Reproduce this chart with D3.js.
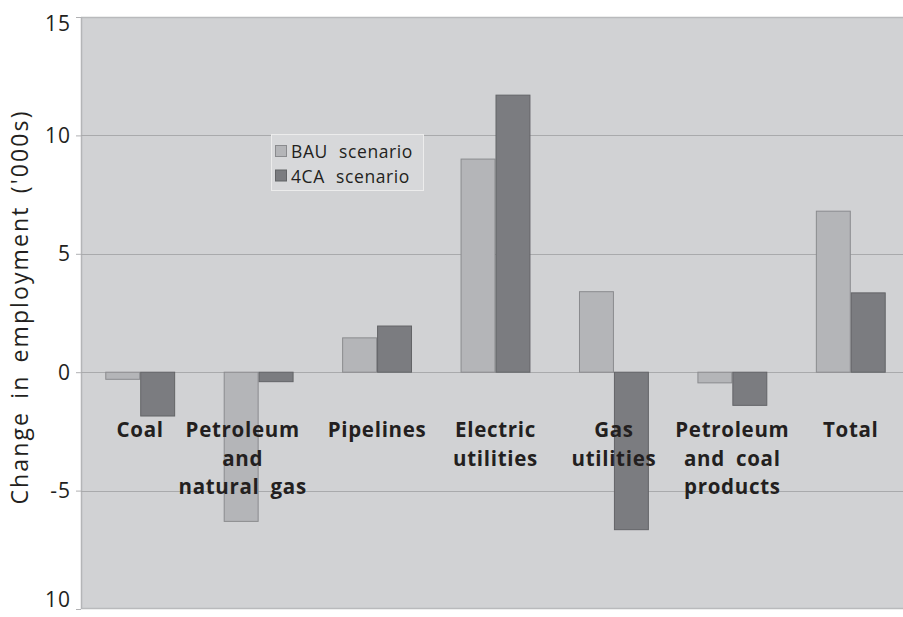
<!DOCTYPE html>
<html>
<head>
<meta charset="utf-8">
<script src="https://cdn.jsdelivr.net/npm/d3@7"></script>
<style>
  html, body { margin: 0; padding: 0; background: #ffffff; }
  svg { display: block; }
  text { font-family: "Open Sans", "Noto Sans", sans-serif; fill: #231f20; }
</style>
</head>
<body>
<svg id="chart" width="903" height="617"></svg>
<script>
// ---- data ----
const categories = ["Coal", "Petroleum and natural gas", "Pipelines", "Electric utilities", "Gas utilities", "Petroleum and coal products", "Total"];
const categoryLines = [["Coal"], ["Petroleum", "and", "natural gas"], ["Pipelines"], ["Electric", "utilities"], ["Gas", "utilities"], ["Petroleum", "and coal", "products"], ["Total"]];
const seriesNames = ["BAU scenario", "4CA scenario"];
const bauValues = [-0.3, -6.3, 1.45, 9.0, 3.4, -0.45, 6.8];
const fourCAValues = [-1.85, -0.4, 1.95, 11.7, -6.65, -1.4, 3.35];
const yTicks = [15, 10, 5, 0, -5, -10];
const yTickLabels = ["15", "10", "5", "0", "-5", "10"];
const yTitle = "Change in employment ('000s)";

// ---- layout ----
const svg = d3.select("#chart");
const plot = { left: 81, right: 910, top: 17, bottom: 609 };
const colors = { bau: "#b4b5b8", bauStroke: "#8a8b8e", ca: "#7b7c80", caStroke: "#636467" };

const x = d3.scaleBand().domain(categories).range([plot.left, plot.right]).paddingInner(0.41).paddingOuter(0.205);
const xs = d3.scaleBand().domain(seriesNames).range([0, x.bandwidth()]);
const y = d3.scaleLinear().domain([-10, 15]).range([plot.bottom, plot.top]);

// plot background
svg.append("rect").attr("x", plot.left).attr("y", plot.top)
  .attr("width", plot.right - plot.left).attr("height", plot.bottom - plot.top)
  .attr("fill", "#d1d2d4");
// borders
svg.append("line").attr("x1", plot.left).attr("x2", plot.right).attr("y1", plot.top + 0.5).attr("y2", plot.top + 0.5)
  .attr("stroke", "#b9babc").attr("stroke-width", 1.5);
svg.append("line").attr("x1", plot.left).attr("x2", plot.right).attr("y1", plot.bottom - 0.5).attr("y2", plot.bottom - 0.5)
  .attr("stroke", "#b9babc").attr("stroke-width", 1.5);
svg.append("line").attr("x1", plot.left + 0.5).attr("x2", plot.left + 0.5).attr("y1", plot.top).attr("y2", plot.bottom)
  .attr("stroke", "#b4b5b7").attr("stroke-width", 1.5);

// gridlines
svg.append("g").selectAll("line").data(yTicks.filter(t => t !== 15 && t !== -10)).join("line")
  .attr("x1", plot.left).attr("x2", plot.right)
  .attr("y1", d => Math.round(y(d)) + 0.5).attr("y2", d => Math.round(y(d)) + 0.5)
  .attr("stroke", "#a9aaac").attr("stroke-width", 1);

// y axis (ticks + labels)
const yAxis = d3.axisLeft(y).tickValues(yTicks).tickSize(5).tickPadding(5)
  .tickFormat((d, i) => yTickLabels[i]);
const gy = svg.append("g").attr("transform", `translate(${plot.left},0)`).call(yAxis);
gy.select(".domain").remove();
gy.selectAll(".tick line").attr("stroke", "#b0b1b3");
gy.selectAll(".tick text").style("font-size", "21px").style("letter-spacing", "1px")
  .style("font-family", "'Open Sans', sans-serif")
  .attr("fill", "#231f20")
  .attr("dy", d => d === 15 ? "0.62em" : d === -10 ? "-0.1em" : "0.34em");

// y title
svg.append("text")
  .attr("transform", `translate(28, ${308}) rotate(-90)`)
  .attr("text-anchor", "middle")
  .attr("textLength", 393).attr("lengthAdjust", "spacing")
  .style("font-size", "23px").style("word-spacing", "4px")
  .text(yTitle);

// bars
const seriesData = [
  { name: seriesNames[0], values: bauValues, fill: colors.bau, stroke: colors.bauStroke },
  { name: seriesNames[1], values: fourCAValues, fill: colors.ca, stroke: colors.caStroke }
];
seriesData.forEach(s => {
  svg.append("g").selectAll("rect").data(categories).join("rect")
    .attr("x", (c) => x(c) + xs(s.name) + 0.5)
    .attr("width", xs.bandwidth() - 1)
    .attr("y", (c, i) => y(Math.max(0, s.values[i])))
    .attr("height", (c, i) => Math.abs(y(s.values[i]) - y(0)))
    .attr("fill", s.fill).attr("stroke", s.stroke).attr("stroke-width", 1);
});

// category labels
const labelShift = { "Petroleum and natural gas": -16 };
const lab = svg.append("g");
categories.forEach((c, i) => {
  const cx = x(c) + x.bandwidth() / 2 + (labelShift[c] || 0);
  const t = lab.append("text").attr("text-anchor", "middle")
    .style("font-size", "20.5px").style("font-weight", "bold")
    .style("letter-spacing", "0.7px").style("word-spacing", "5px");
  categoryLines[i].forEach((ln, j) => {
    t.append("tspan").attr("x", cx).attr("y", 437 + j * 28.7).text(ln);
  });
});

// legend
const lg = svg.append("g");
lg.append("rect").attr("x", 271.5).attr("y", 134.5).attr("width", 152).attr("height", 56)
  .attr("fill", "#d7d8da").attr("stroke", "#ececec").attr("stroke-width", 1);
seriesData.forEach((s, i) => {
  lg.append("rect").attr("x", 275.5).attr("y", 145.5 + i * 24.5).attr("width", 11).attr("height", 11)
    .attr("fill", s.fill).attr("stroke", s.stroke).attr("stroke-width", 1);
  lg.append("text").attr("x", 291).attr("y", 158 + i * 25)
    .style("font-size", "17.5px").style("word-spacing", "6px").style("letter-spacing", "0.6px")
    .text(s.name);
});
</script>
</body>
</html>
